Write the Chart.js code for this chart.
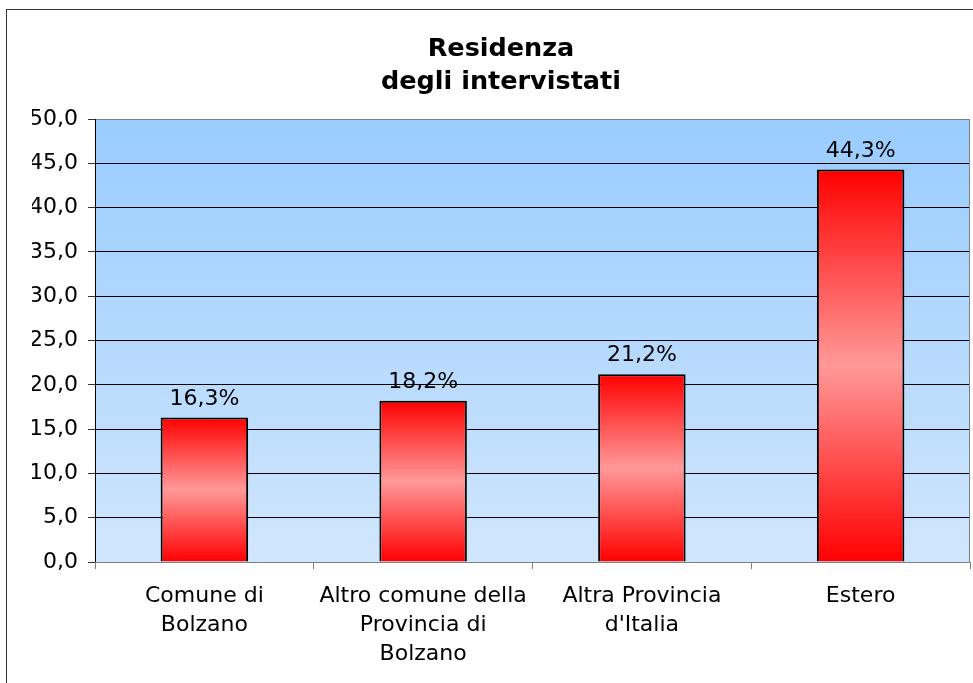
<!DOCTYPE html>
<html>
<head>
<meta charset="utf-8">
<script src="https://cdn.jsdelivr.net/npm/chart.js@4"></script>
<style>
  html, body { margin: 0; padding: 0; overflow: hidden; background: #fff; }
  #wrap { position: absolute; left: 0; top: 0; width: 973px; height: 683px; }
  #frame { position: absolute; left: 6px; top: 9px; width: 1000px; height: 700px;
           border: 1.5px solid #333; pointer-events: none; }
</style>
</head>
<body>
<div id="wrap"><canvas id="resChart"></canvas></div>
<div id="frame"></div>
<script>
// categories (multi-line labels as in the original chart)
const categories = [
    ["Comune di", "Bolzano"],
    ["Altro comune della", "Provincia di", "Bolzano"],
    ["Altra Provincia", "d'Italia"],
    "Estero"
];
const percentages = [16.3, 18.2, 21.2, 44.3];
const yMin = 0, yMax = 50, yStep = 5;

const FONT = "'DejaVu Sans', Verdana, sans-serif";
const fmt = v => v.toFixed(1).replace(".", ",");

// blue gradient behind the plot area
const plotBackground = {
    id: "plotBackground",
    beforeDraw(chart) {
        const { ctx, chartArea: a } = chart;
        const g = ctx.createLinearGradient(0, a.top, 0, a.bottom);
        g.addColorStop(0, "#99CCFF");
        g.addColorStop(1, "#D0E6FD");
        ctx.save();
        ctx.fillStyle = g;
        ctx.fillRect(a.left, a.top, a.right - a.left, a.bottom - a.top);
        ctx.restore();
    },
    afterDraw(chart) {
        // grey right edge of the plot box
        const { ctx, chartArea: a } = chart;
        ctx.save();
        ctx.strokeStyle = "#808080";
        ctx.lineWidth = 1;
        ctx.beginPath();
        ctx.moveTo(a.right - 0.5, a.top);
        ctx.lineTo(a.right - 0.5, a.bottom);
        ctx.stroke();
        ctx.restore();
    }
};

// value labels above each bar
const valueLabels = {
    id: "valueLabels",
    afterDatasetsDraw(chart) {
        const { ctx } = chart;
        const meta = chart.getDatasetMeta(0);
        ctx.save();
        ctx.font = "22px " + FONT;
        ctx.fillStyle = "#000";
        ctx.textAlign = "center";
        ctx.textBaseline = "alphabetic";
        meta.data.forEach((bar, i) => {
            ctx.fillText(fmt(percentages[i]) + "%", bar.x, bar.y - 13);
        });
        ctx.restore();
    }
};

// red -> pink -> red gradient, one per bar
function barGradient(context) {
    const chart = context.chart;
    if (!chart.chartArea) return "#FF0000";
    const y = chart.scales.y;
    const top = y.getPixelForValue(context.raw);
    const base = y.getPixelForValue(0);
    const g = chart.ctx.createLinearGradient(0, top, 0, base);
    g.addColorStop(0, "#FF0000");
    g.addColorStop(0.5, "#FF9999");
    g.addColorStop(1, "#FF0000");
    return g;
}

new Chart(document.getElementById("resChart"), {
    type: "bar",
    data: {
        labels: categories,
        datasets: [{
            data: percentages,
            backgroundColor: barGradient,
            borderColor: "#000",
            borderWidth: 2,
            barPercentage: 0.4,
            categoryPercentage: 1
        }]
    },
    options: {
        responsive: true,
        maintainAspectRatio: false,
        animation: false,
        layout: { padding: { left: 32, right: 3, top: 0, bottom: 0 } },
        plugins: {
            legend: { display: false },
            tooltip: { enabled: false },
            title: {
                display: true,
                text: ["Residenza", "degli intervistati"],
                color: "#000",
                font: { family: FONT, size: 25.5, weight: "bold", lineHeight: 33 / 25.5 },
                padding: { top: 33, bottom: 20 }
            }
        },
        scales: {
            y: {
                min: yMin,
                max: yMax,
                ticks: {
                    stepSize: yStep,
                    callback: v => fmt(v),
                    color: "#000",
                    padding: 10,
                    font: { family: FONT, size: 22 }
                },
                grid: {
                    color: c => (c.tick && c.tick.value === yMax) ? "#808080" : "#000",
                    lineWidth: 1,
                    tickLength: 7,
                    tickColor: "#333"
                },
                border: { color: "#000", width: 1 },
                afterFit: s => { s.width = 63; }
            },
            x: {
                ticks: {
                    color: "#000",
                    padding: 13,
                    autoSkip: false,
                    maxRotation: 0,
                    font: { family: FONT, size: 22, lineHeight: 29 / 22 }
                },
                grid: {
                    offset: true,
                    drawOnChartArea: false,
                    tickLength: 7,
                    tickColor: "#808080"
                },
                border: { color: "#808080", width: 1 },
                afterFit: s => { s.height = 121; }
            }
        }
    },
    plugins: [plotBackground, valueLabels]
});
</script>
</body>
</html>
